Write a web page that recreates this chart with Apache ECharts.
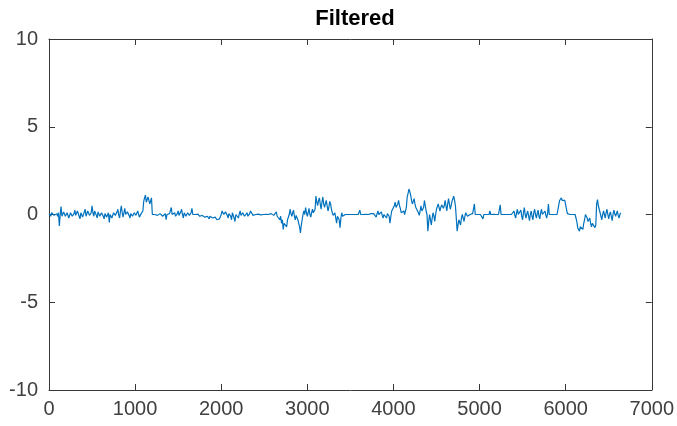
<!DOCTYPE html>
<html>
<head>
<meta charset="utf-8">
<script src="https://cdn.jsdelivr.net/npm/echarts@6/dist/echarts.min.js"></script>
<style>html,body{margin:0;padding:0;background:#fff;}#c{width:677px;height:426px;}</style>
</head>
<body>
<div id="c"></div>
<script>
var chartTitle = "Filtered";
var sampleStep = 10;
var xTicks = [0, 1000, 2000, 3000, 4000, 5000, 6000, 7000];
var yTicks = [-10, -5, 0, 5, 10];
var signal = [
  0.05, -0.05, -0.1, 0.1, 0.0, 0.1, -0.05, -0.15, 0.0, 0.05,
  -0.1, 0.1, -0.65, 0.0, 0.45, -0.1, -0.2, 0.15, 0.1, -0.1,
  -0.15, 0.1, 0.2, -0.2, -0.1, 0.1, 0.15, -0.1, -0.2, 0.05,
  0.25, -0.05, -0.15, 0.2, 0.1, -0.1, -0.25, 0.1, 0.2, -0.15,
  -0.1, 0.15, 0.3, -0.1, -0.2, 0.2, 0.15, -0.05, -0.15, 0.1,
  0.5, 0.1, -0.1, 0.2, 0.3, -0.05, -0.2, 0.15, 0.1, -0.1,
  -0.15, 0.1, 0.2, -0.1, -0.25, 0.05, 0.1, -0.15, -0.1, 0.1,
  -0.45, 0.0, 0.1, -0.2, -0.3, 0.1, 0.2, -0.05, -0.1, 0.15,
  0.3, -0.05, -0.2, 0.2, 0.5, 0.1, -0.15, 0.1, 0.35, 0.0,
  -0.1, 0.15, 0.2, -0.05, -0.2, 0.05, 0.1, -0.1, -0.05, 0.1,
  0.15, -0.05, -0.1, 0.2, 0.1, -0.15, -0.2, 0.05, 0.05, 0.2,
  0.75, 0.95, 1.1, 0.7, 0.8, 1.0, 1.05, 0.6, 0.7, 0.95,
  0.0, 0.05, -0.1, 0.0, 0.05, -0.05, -0.05, 0.02, 0.0, 0.05,
  0.05, -0.02, -0.1, 0.0, 0.0, 0.05, -0.3, 0.0, 0.0, -0.05,
  0.05, 0.1, 0.4, 0.0, -0.05, 0.1, 0.1, -0.1, -0.15, 0.05,
  0.2, -0.05, -0.1, 0.15, 0.3, 0.0, -0.2, 0.1, 0.15, -0.1,
  -0.15, 0.1, 0.2, -0.05, -0.1, 0.1, 0.35, 0.0, -0.1, 0.05,
  0.0, -0.05, -0.1, 0.02, 0.05, -0.1, -0.15, -0.05, -0.05, -0.1,
  -0.1, -0.15, -0.2, -0.05, -0.1, -0.2, -0.25, -0.1, -0.15, -0.2,
  -0.2, -0.25, -0.3, -0.15, -0.2, -0.3, -0.35, -0.2, -0.25, -0.3,
  0.0, 0.2, 0.3, 0.0, -0.1, 0.15, 0.25, -0.05, -0.2, 0.05,
  0.1, -0.1, -0.3, 0.1, 0.05, -0.2, -0.4, 0.0, 0.1, -0.1,
  -0.2, 0.05, 0.2, -0.05, -0.1, 0.1, 0.15, -0.1, -0.15, 0.0,
  0.1, -0.1, -0.2, 0.05, 0.2, 0.1, 0.25, -0.05, -0.1, 0.0,
  0.0, 0.0, 0.0, 0.02, 0.02, 0.0, -0.02, 0.0, 0.0, 0.0,
  0.0, 0.0, 0.01, 0.0, -0.01, 0.0, 0.0, 0.0, 0.05, 0.0,
  0.1, -0.05, -0.15, 0.05, 0.15, -0.1, -0.2, 0.0, -0.3, -0.1,
  -0.5, -0.3, -0.85, -0.5, -0.4, -0.6, -0.7, -0.3, -0.2, 0.0,
  0.3, 0.05, -0.1, 0.1, 0.25, -0.1, -0.3, -0.05, -0.15, -0.3,
  -0.5, -0.7, -1.05, -0.6, -0.3, 0.0, 0.2, 0.0, 0.4, 0.1,
  -0.1, 0.1, 0.35, 0.0, -0.15, 0.1, 0.3, 0.1, 0.05, 0.3,
  1.05, 0.7, 0.5, 0.8, 0.95, 0.6, 0.3, 0.7, 1.0, 0.6,
  0.4, 0.6, 0.8, 0.5, 0.2, 0.4, 0.75, 0.6, 0.3, 0.1,
  -0.05, 0.05, 0.1, -0.2, -0.5, -0.1, 0.0, -0.3, -0.75, -0.2,
  0.1, -0.1, -0.2, 0.0, 0.0, 0.01, 0.01, 0.0, 0.0, 0.0,
  0.0, 0.0, 0.0, 0.0, 0.01, 0.0, 0.0, 0.0, 0.0, 0.0,
  0.0, 0.25, 0.0, 0.0, 0.0, 0.0, 0.0, 0.0, 0.01, 0.0,
  0.0, 0.0, 0.0, 0.0, 0.05, 0.0, 0.0, 0.05, 0.1, 0.0,
  -0.15, 0.05, 0.2, 0.0, -0.1, 0.1, 0.15, -0.05, -0.2, 0.0,
  0.1, -0.05, -0.2, 0.05, 0.15, -0.1, -0.5, -0.1, 0.2, 0.1,
  0.3, 0.5, 0.7, 0.4, 0.4, 0.6, 0.8, 0.5, 0.35, 0.1,
  0.0, 0.1, 0.2, 0.0, -0.1, 0.4, 1.0, 1.2, 1.45, 1.3,
  1.1, 0.8, 0.6, 0.75, 0.9, 0.6, 0.4, 0.5, 0.3, 0.1,
  -0.05, 0.2, 0.5, 0.2, 0.1, 0.4, 0.8, 0.5, 0.2, 0.0,
  -0.95, -0.4, 0.0, -0.3, -0.6, -0.2, 0.1, -0.1, -0.4, 0.0,
  0.3, 0.45, 0.6, 0.4, 0.2, 0.4, 0.55, 0.45, 0.35, 0.5,
  0.8, 0.5, 0.2, 0.6, 0.9, 0.6, 0.3, 0.5, 0.75, 0.9,
  1.05, 0.8, 0.5, -0.2, -0.95, -0.6, -0.3, -0.4, -0.6, -0.2,
  0.0, -0.2, -0.4, -0.1, 0.1, 0.0, -0.1, -0.05, 0.0, 0.0,
  0.0, 0.0, 0.05, 0.0, 0.6, 0.0, 0.0, 0.0, 0.0, 0.0,
  0.0, 0.0, 0.01, 0.0, -0.25, 0.0, 0.0, 0.0, 0.0, 0.0,
  0.0, 0.0, 0.2, 0.0, 0.0, 0.0, 0.01, 0.0, 0.0, 0.0,
  0.0, 0.0, 0.0, 0.0, 0.55, 0.0, 0.0, 0.0, 0.0, 0.0,
  0.0, 0.0, 0.01, 0.0, 0.0, 0.0, 0.0, 0.0, 0.0, 0.05,
  0.2, -0.05, -0.2, 0.1, 0.3, 0.0, -0.1, 0.1, 0.25, -0.1,
  -0.3, 0.1, 0.4, 0.0, -0.2, 0.05, 0.2, -0.1, -0.35, 0.0,
  0.2, -0.1, -0.3, 0.1, 0.3, 0.0, -0.2, 0.05, 0.25, -0.1,
  -0.25, 0.1, 0.3, 0.0, -0.1, 0.1, 0.2, -0.05, -0.2, 0.05,
  0.6, 0.0, 0.0, 0.0, 0.0, 0.01, 0.0, 0.0, 0.0, 0.0,
  0.0, 0.0, 0.0, 0.8, 0.85, 0.95, 0.8, 0.75, 0.85, 0.8,
  0.8, 0.75, 0.05, 0.0, 0.0, 0.0, -0.05, 0.0, 0.0, 0.0,
  -0.1, 0.0, -0.2, -0.4, -0.75, -0.85, -0.95, -0.7, -0.6, -0.8,
  -0.85, -0.5, -0.3, 0.0, 0.0, -0.2, -0.4, -0.3, -0.2, -0.5,
  -0.7, -0.5, -0.45, -0.6, -0.75, -0.6, 0.6, 0.85, 0.5, 0.3,
  0.1, -0.1, -0.3, 0.0, 0.2, 0.0, -0.2, 0.1, 0.3, 0.0,
  -0.25, 0.0, 0.15, -0.1, -0.35, 0.0, 0.25, 0.05, -0.1, 0.0,
  0.2, -0.05, -0.2, 0.0, 0.1, 0.0
];

var axisColor = '#383838';
var fontFam = '"Liberation Sans", Arial, Helvetica, sans-serif';
var seriesData = signal.map(function (v, i) { return [i * sampleStep, v]; });

var chart = echarts.init(document.getElementById('c'), null, {renderer: 'canvas'});
function axisBase(show) {
  return {
    type: 'value',
    axisLine: {show: true, onZero: false, lineStyle: {color: axisColor, width: 1}},
    axisTick: {show: true, inside: true, length: 6, lineStyle: {color: axisColor, width: 1}},
    splitLine: {show: false},
    axisLabel: {show: show, color: '#404040', fontSize: 20, fontFamily: fontFam,
      formatter: function (v) { return String(v); }}
  };
}
var xb = axisBase(true);
xb.position = 'bottom'; xb.min = xTicks[0]; xb.max = xTicks[xTicks.length - 1]; xb.interval = 1000; xb.axisLabel.margin = 9;
var xt = axisBase(false);
xt.position = 'top'; xt.min = xTicks[0]; xt.max = xTicks[xTicks.length - 1]; xt.interval = 1000;
var yl = axisBase(true);
yl.position = 'left'; yl.min = yTicks[0]; yl.max = yTicks[yTicks.length - 1]; yl.interval = 5; yl.axisLabel.margin = 11;
var yr = axisBase(false);
yr.position = 'right'; yr.min = yTicks[0]; yr.max = yTicks[yTicks.length - 1]; yr.interval = 5;

chart.setOption({
  animation: false,
  backgroundColor: '#ffffff',
  title: {
    text: chartTitle, left: 350, top: 3, textAlign: 'center',
    textStyle: {fontFamily: fontFam, fontSize: 22, fontWeight: 'bold', color: '#000'}
  },
  grid: {left: 49, right: 24, top: 39, bottom: 36, containLabel: false},
  xAxis: [xb, xt],
  yAxis: [yl, yr],
  series: [{
    type: 'line', xAxisIndex: 0, yAxisIndex: 0,
    data: seriesData, showSymbol: false, symbol: 'none',
    lineStyle: {color: '#0072BD', width: 1.2}
  }]
});
</script>
</body>
</html>
